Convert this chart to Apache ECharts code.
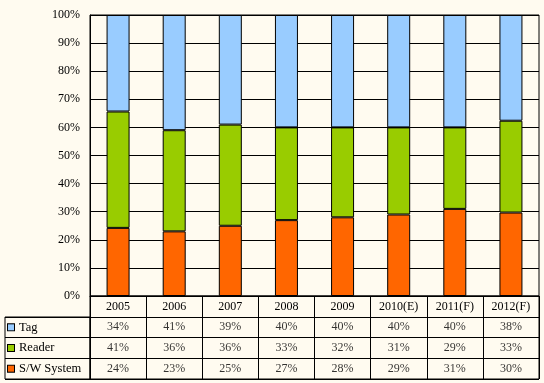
<!DOCTYPE html>
<html>
<head>
<meta charset="utf-8">
<script src="https://cdn.jsdelivr.net/npm/echarts@6/dist/echarts.min.js"></script>
<style>
html,body{margin:0;padding:0;background:#FFFBF0;}
#c{width:544px;height:383px;}
</style>
</head>
<body>
<div id="c"></div>
<script>
const categories = ['2005','2006','2007','2008','2009','2010(E)','2011(F)','2012(F)'];
const seriesNames = ['Tag','Reader','S/W System'];
const tagValues = [34,41,39,40,40,40,40,38];
const readerValues = [41,36,36,33,32,31,29,33];
const swValues = [24,23,25,27,28,29,31,30];
const yTicks = [0,10,20,30,40,50,60,70,80,90,100];

const colors = {'Tag':'#99CCFF','Reader':'#99CC00','S/W System':'#FF6600'};
const font = "'Liberation Serif', 'Times New Roman', serif";
const totals = categories.map((c,i)=>tagValues[i]+readerValues[i]+swValues[i]);
const share = arr => arr.map((v,i)=>v/totals[i]*100);

const rowOrder = ['S/W System','Reader','Tag'];
const rowValues = {'S/W System':swValues,'Reader':readerValues,'Tag':tagValues};

const chart = echarts.init(document.getElementById('c'), null, {renderer:'canvas'});

const barSeries = [
  {name:'S/W System', data:share(swValues)},
  {name:'Reader', data:share(readerValues)},
  {name:'Tag', data:share(tagValues)}
].map(s=>({
  name:s.name, type:'bar', stack:'all', data:s.data, barWidth:23,
  xAxisIndex:0, yAxisIndex:0, silent:true,
  itemStyle:{color:colors[s.name], borderColor:'#000', borderWidth:1}
}));

const tableSeries = rowOrder.map((name,r)=>({
  name:name+'_tbl', type:'scatter', xAxisIndex:1, yAxisIndex:1, silent:true,
  symbolSize:1, itemStyle:{color:'rgba(0,0,0,0)'},
  data: categories.map((c,i)=>[i, r, rowValues[name][i]]),
  label:{show:true, position:'inside', formatter:p=>p.value[2]+'%',
    color:'#000', fontFamily:font, fontSize:12}
}));

const sqRich = {};
seriesNames.forEach((n,i)=>{
  sqRich['s'+i] = {width:6, height:6, backgroundColor:colors[n], borderColor:'#000', borderWidth:1};
});
sqRich.t = {color:'#000', fontFamily:font, fontSize:12.5, padding:[0,0,0,5]};

chart.setOption({
  backgroundColor:'#FFFBF0',
  animation:false,
  grid:[
    {left:90, right:5, top:15, bottom:87, show:true, borderColor:'#000', borderWidth:1},
    {left:90, right:5, top:296, bottom:4, show:true, borderColor:'#000', borderWidth:1},
    {left:5, width:85, top:317, bottom:4, show:true, borderColor:'#000', borderWidth:1}
  ],
  xAxis:[
    {type:'category', gridIndex:0, data:categories,
      axisLine:{show:true, lineStyle:{color:'#000', width:1}}, axisTick:{show:false},
      axisLabel:{color:'#000', fontFamily:font, fontSize:12, margin:5, interval:0}},
    {type:'category', gridIndex:1, data:categories,
      axisLine:{show:false}, axisTick:{show:false}, axisLabel:{show:false},
      splitLine:{show:true, interval:0, lineStyle:{color:'#000', width:1}}},
    {type:'value', gridIndex:2, show:false, min:0, max:1}
  ],
  yAxis:[
    {type:'value', gridIndex:0, min:0, max:100, interval:10,
      axisLine:{show:true, lineStyle:{color:'#000', width:1}}, axisTick:{show:false},
      axisLabel:{color:'#000', fontFamily:font, fontSize:12, margin:10, formatter:'{value}%'},
      splitLine:{show:true, lineStyle:{color:'#000', width:1}}},
    {type:'category', gridIndex:1, data:rowOrder.concat(['']),
      axisLine:{show:false}, axisTick:{show:false}, axisLabel:{show:false},
      splitLine:{show:true, interval:0, lineStyle:{color:'#000', width:1}}},
    {type:'category', gridIndex:2, data:rowOrder,
      axisLine:{show:false}, axisTick:{show:false},
      axisLabel:{show:true, inside:true, margin:3, interval:0,
        formatter:v=>'{s'+seriesNames.indexOf(v)+'|}{t|'+v+'}', rich:sqRich},
      splitLine:{show:true, interval:0, lineStyle:{color:'#000', width:1}}}
  ],
  series: barSeries.concat(tableSeries)
});
</script>
</body>
</html>
